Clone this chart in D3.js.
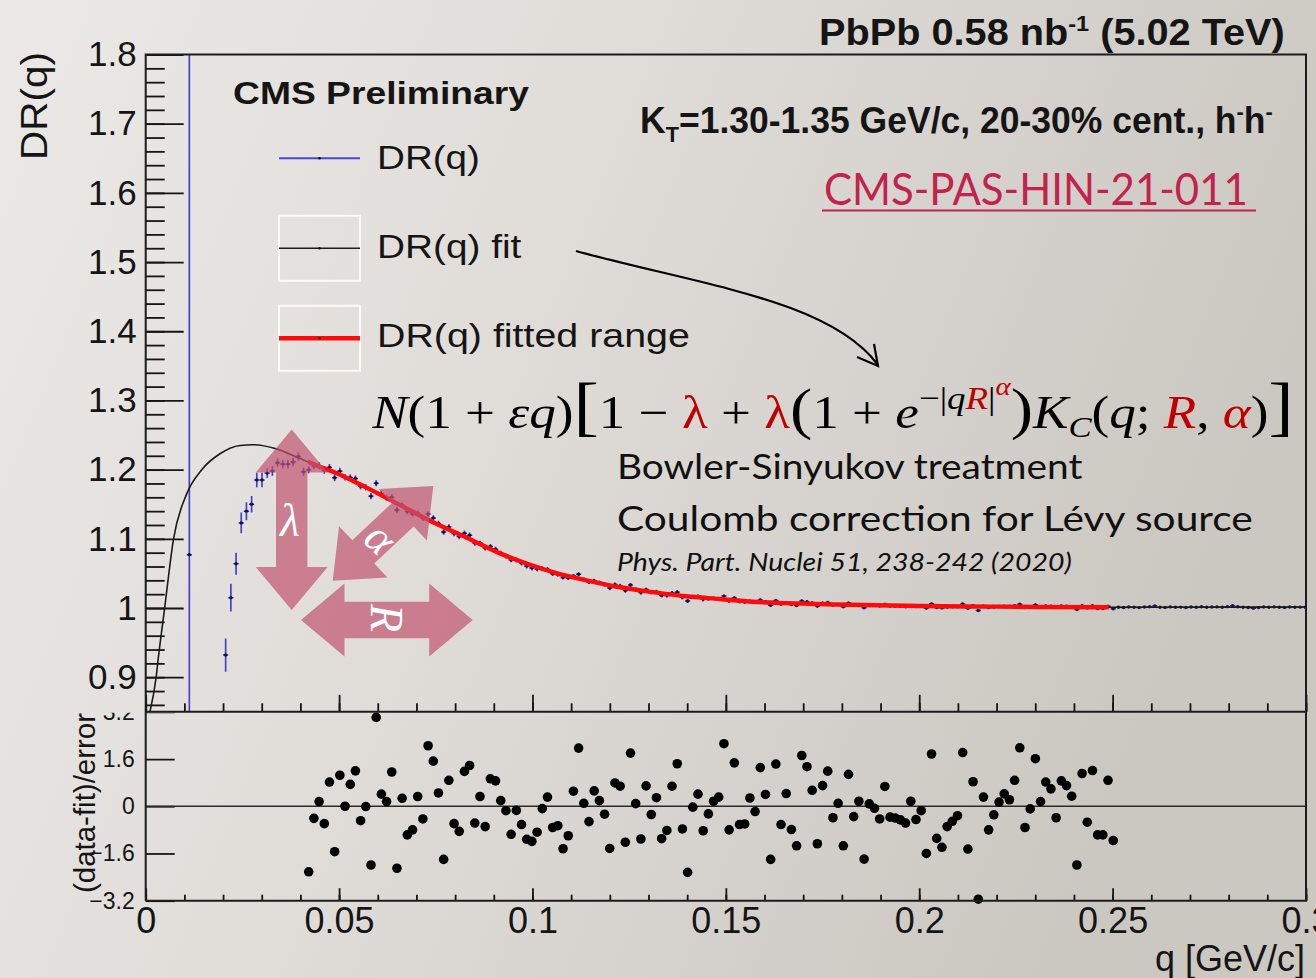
<!DOCTYPE html>
<html><head><meta charset="utf-8">
<script src="https://cdn.jsdelivr.net/npm/d3@7"></script>
<style>
html,body{margin:0;padding:0;overflow:hidden;background:#e4e2df}
svg{display:block}
</style></head><body>
<svg id="c" width="1316" height="978"></svg>
<script>
// ---------------- data ----------------
// DR(q) histogram: bin centres start at binQ0 and advance by binW
const binQ0 = 0.01128;
const binW = 0.001342;
const drValues = [1.077, null, null, null, null, null, null,
 0.932, 1.015, 1.064, 1.123, 1.140, 1.150, 1.185, 1.185, 1.195, 1.198,
 1.210, 1.208, 1.208, 1.211, 1.219, 1.197, 1.1997, 1.2055, 1.2055, 1.1989,
 1.2032, 1.1883, 1.1978, 1.1889, 1.1886, 1.1871, 1.1759, 1.1745, 1.1617, 1.1803,
 1.1647, 1.1596, 1.1602, 1.1416, 1.1484, 1.1395, 1.1362, 1.1368, 1.1299, 1.1359,
 1.1300, 1.1222, 1.1098, 1.1171, 1.1077, 1.1033, 1.1079, 1.1053, 1.0939, 1.0939,
 1.0867, 1.0889, 1.0850, 1.0793, 1.0752, 1.0695, 1.0694, 1.0649, 1.0607, 1.0579,
 1.0565, 1.0568, 1.0557, 1.0497, 1.0483, 1.0441, 1.0435, 1.0462, 1.0488, 1.0413,
 1.0377, 1.0393, 1.0368, 1.0338, 1.0288, 1.0339, 1.0319, 1.0252, 1.0332, 1.0270,
 1.0223, 1.0266, 1.0226, 1.0233, 1.0182, 1.0180, 1.0216, 1.0229, 1.0154, 1.0102,
 1.0161, 1.0168, 1.0125, 1.0135, 1.0141, 1.0138, 1.0172, 1.0100, 1.0144, 1.0092,
 1.0087, 1.0099, 1.0085, 1.0115, 1.0092, 1.0039, 1.0107, 1.0059, 1.0079, 1.0051,
 1.0037, 1.0102, 1.0091, 1.0072, 1.0030, 1.0071, 1.0080, 1.0043, 1.0052, 1.0020,
 1.0071, 1.0038, 1.0049, 1.0005, 1.0044, 1.0039, 1.0031, 1.0053, 1.0029, 1.0027,
 1.0025, 1.0020, 1.0036, 1.0021, 1.0027, 1.0000, 1.0060, 1.0008, 1.0002, 1.0014,
 1.0017, 1.0019, 1.0057, 0.9998, 1.0038, 0.9965, 1.0028, 1.0007, 1.0015, 1.0023,
 1.0027, 1.0023, 1.0034, 1.0054, 1.0005, 1.0015, 1.0046, 1.0019, 1.0031, 1.0026,
 1.0008, 1.0029, 1.0027, 1.0019, 0.9977, 1.0033, 1.0002, 1.0034, 0.9994, 0.9994,
 1.0026, 0.9989,
 1.0012, 1.0008, 1.0015, 1.0010, 1.0006, 1.0014, 1.0018, 1.0030, 1.0012, 1.0009,
 1.0016, 1.0011, 1.0013, 1.0007, 1.0015, 1.0012, 1.0018, 1.0010, 1.0014, 1.0016,
 1.0012, 1.0020, 1.0032, 1.0018, 1.0012, 1.0008, 0.9998, 1.0006, 1.0014, 1.0010,
 1.0016, 1.0012, 1.0009, 1.0015, 1.0011, 1.0013, 1.0010];
const drErrors = [0.9, null, null, null, null, null, null,
 0.024, 0.020, 0.016, 0.015, 0.013, 0.012, 0.0105, 0.0105, 0.007, 0.007,
 0.006, 0.006, 0.006, 0.006, 0.006, 0.006, 0.005, 0.005, 0.005, 0.005,
 0.005, 0.005, 0.005, 0.0045, 0.0045, 0.0045, 0.0045, 0.0045, 0.0045, 0.0045,
 0.0045, 0.0045, 0.0045, 0.0045, 0.004, 0.004, 0.004, 0.004, 0.004, 0.004,
 0.004, 0.004, 0.004, 0.004, 0.004, 0.004, 0.004, 0.004, 0.004, 0.0035,
 0.0035, 0.0035, 0.0035, 0.0035, 0.0035, 0.0035, 0.0035, 0.0035, 0.0035, 0.0035,
 0.0035, 0.0035, 0.0035, 0.0035, 0.003, 0.003, 0.003, 0.003, 0.003, 0.003,
 0.003, 0.003, 0.003, 0.003, 0.003, 0.003, 0.003, 0.003, 0.003, 0.003,
 0.003, 0.003, 0.003, 0.003, 0.003, 0.003, 0.003, 0.003, 0.003, 0.003,
 0.003, 0.003, 0.003, 0.003, 0.0022, 0.0022, 0.0022, 0.0022, 0.0022, 0.0022,
 0.0022, 0.0022, 0.0022, 0.0022, 0.0022, 0.0022, 0.0022, 0.0022, 0.0022, 0.0022,
 0.0022, 0.0022, 0.0022, 0.0022, 0.0022, 0.0022, 0.0022, 0.0022, 0.0022, 0.0022,
 0.0022, 0.0022, 0.0022, 0.0022, 0.0022, 0.0022, 0.0022, 0.0022, 0.0022, 0.0022,
 0.0022, 0.0022, 0.0022, 0.0022, 0.0018, 0.0018, 0.0018, 0.0018, 0.0018, 0.0018,
 0.0018, 0.0018, 0.0018, 0.0018, 0.0018, 0.0018, 0.0018, 0.0018, 0.0018, 0.0018,
 0.0018, 0.0018, 0.0018, 0.0018, 0.0018, 0.0018, 0.0018, 0.0018, 0.0018, 0.0018,
 0.0018, 0.0018, 0.0018, 0.0018, 0.0018, 0.0018, 0.0018, 0.0018, 0.0018, 0.0018,
 0.0018, 0.0018,
 0.0015, 0.0015, 0.0015, 0.0015, 0.0015, 0.0015, 0.0015, 0.0015, 0.0015, 0.0015,
 0.0015, 0.0015, 0.0015, 0.0015, 0.0015, 0.0015, 0.0015, 0.0015, 0.0015, 0.0015,
 0.0015, 0.0015, 0.0015, 0.0015, 0.0015, 0.0015, 0.0015, 0.0015, 0.0015, 0.0015,
 0.0015, 0.0015, 0.0015, 0.0015, 0.0015, 0.0015, 0.0015];

// (data-fit)/error, one value per bin of the fitted range
const residFirstBin = 23;
const residuals = [
 -2.22, -0.41, 0.16, -0.59, 0.82, -1.54, 1.05, 0.00, 0.74, 1.20,
 -0.49, -0.01, -1.99, 3.01, 0.41, 0.16, 1.16, -2.10, 0.27, -0.97,
 -0.80, 0.33, -0.43, 2.05, 1.53, 0.45, -1.80, 0.88, -0.59, -0.85,
 1.18, 1.38, -0.57, 0.33, -0.69, 0.93, 0.86, 0.19, -0.15, -0.95,
 -0.14, -0.62, -1.12, -1.19, -0.88, -0.08, 0.31, -0.72, -0.66, -1.44,
 -1.00, 0.51, 1.97, 0.10, -0.52, 0.52, 0.19, -0.27, -1.43, 0.79,
 0.68, -1.22, 1.80, 0.09, -1.11, 0.69, -0.28, 0.29, -1.10, -0.82,
 0.68, 1.44, -0.77, -2.24, -0.03, 0.41, -0.83, -0.26,
 0.17, 0.31, 2.12, -0.80, 1.47, -0.62, -0.60, 0.28, -0.18, 1.31,
 0.40, -1.80, 1.43, -0.62, 0.43, -0.79, -1.34, 1.72, 1.34, 0.54,
 -1.27, 0.70, 1.19, -0.39, 0.10, -1.34, 1.08, -0.35, 0.17, -1.79,
 0.08, -0.07, -0.43, 0.67, -0.37, -0.40, -0.46, -0.57, 0.17, -0.45,
 -0.15, -1.60, 1.77, -1.09, -1.39, -0.69, -0.51, -0.32, 1.82, -1.45,
 0.83, -3.15, 0.31, -0.80, -0.29, 0.14, 0.42, 0.22, 0.88, 1.98,
 -0.72, -0.09, 1.61, 0.16, 0.82, 0.59, -0.39, 0.86, 0.70, 0.34,
 -1.99, 1.11, -0.54, 1.21, -0.97, -0.97, 0.88, -1.16];

// fitted function sampled along q
const fitQ = [0.0011, 0.0027, 0.0032, 0.0049, 0.0072, 0.0106, 0.0145, 0.0192, 0.0244, 0.0278,
 0.0338, 0.0399, 0.0442, 0.0485, 0.0571, 0.0657, 0.0743, 0.0829, 0.0916, 0.0967,
 0.1053, 0.1140, 0.1226, 0.1312, 0.1398, 0.1484, 0.1570, 0.1656, 0.1786, 0.2000,
 0.2200, 0.2500, 0.2750, 0.3000];
const fitDR = [0.85, 0.90, 0.925, 1.00, 1.10, 1.165, 1.200, 1.223, 1.235, 1.236,
 1.230, 1.216, 1.206, 1.197, 1.174, 1.149, 1.124, 1.102, 1.079, 1.068,
 1.052, 1.040, 1.030, 1.023, 1.017, 1.013, 1.009, 1.007, 1.005, 1.003,
 1.002, 1.001, 1.0012, 1.0015];
const fitRange = [0.042, 0.249];

const xTicks = [0, 0.05, 0.1, 0.15, 0.2, 0.25, 0.3];
const yTicksTop = [0.9, 1.0, 1.1, 1.2, 1.3, 1.4, 1.5, 1.6, 1.7, 1.8];
const yTicksBottom = [-3.2, -1.6, 0, 1.6, 3.2];

// ---------------- layout ----------------
const L = 145.7, R = 1306, T = 54.5, MID = 711.8, B = 900.7;
const SANS = "'Liberation Sans', Arial, Helvetica, sans-serif";
const SERIF = "'Liberation Serif', 'Times New Roman', serif";
const SLIDE = "Lato, 'Open Sans', sans-serif";
const INK = "#151515";

const svg = d3.select("#c");
const defs = svg.append("defs");
const grad = defs.append("linearGradient").attr("id", "bg")
  .attr("x1", "0").attr("y1", "0").attr("x2", "1").attr("y2", "0.3");
grad.append("stop").attr("offset", "0").attr("stop-color", "#ebe9e6");
grad.append("stop").attr("offset", "0.45").attr("stop-color", "#e0ddd9");
grad.append("stop").attr("offset", "1").attr("stop-color", "#cbc7c1");
svg.append("rect").attr("width", 1316).attr("height", 978).attr("fill", "url(#bg)");

defs.append("clipPath").attr("id", "topClip").append("rect")
  .attr("x", L).attr("y", T).attr("width", R - L).attr("height", MID - T);
// the lower pad hides whatever of its labels pokes above the upper pad's edge
defs.append("clipPath").attr("id", "lowPad").append("rect")
  .attr("x", 0).attr("y", MID + 1).attr("width", 1316).attr("height", 978 - MID);

const x = d3.scaleLinear().domain([0, 0.3]).range([L, R]);
const yTop = d3.scaleLinear().domain([0.85, 1.8]).range([MID, T]);
const yBot = d3.scaleLinear().domain([-3.2, 3.2]).range([B, MID]);
defs.append("clipPath").attr("id", "fitClip").append("rect")
  .attr("x", x(fitRange[0])).attr("y", T).attr("width", x(fitRange[1]) - x(fitRange[0])).attr("height", MID - T);

// stretch a text element horizontally to a target width
function fitWidth(sel, w) {
  const b = sel.node().getBBox();
  const sx = w / b.width;
  sel.attr("transform", `translate(${b.x},0) scale(${sx},1) translate(${-b.x},0)`);
}

function styleAxis(g, fs) {
  g.select(".domain").remove();
  g.selectAll(".tick line").attr("stroke", INK).attr("stroke-width", 1.8);
  g.selectAll(".tick text").attr("fill", INK).attr("font-family", SANS).attr("font-size", fs);
}

// ---------------- upper pad ----------------
const xMinor = d3.range(0, 0.3001, 0.01);
const yMinorTop = d3.range(0.86, 1.8001, 0.02);

svg.append("g").attr("transform", `translate(${L},0)`)
  .call(d3.axisLeft(yTop).tickValues(yMinorTop).tickSize(-19).tickFormat(""))
  .call(g => styleAxis(g, 0));
svg.append("g").attr("transform", `translate(${L},0)`)
  .call(d3.axisLeft(yTop).tickValues(yTicksTop).tickSize(-38).tickPadding(9).tickFormat(d3.format("~g")))
  .call(g => styleAxis(g, 35));
svg.append("g").attr("transform", `translate(0,${MID})`)
  .call(d3.axisBottom(x).tickValues(xMinor).tickSize(-8.5).tickFormat(""))
  .call(g => styleAxis(g, 0));
svg.append("g").attr("transform", `translate(0,${MID})`)
  .call(d3.axisBottom(x).tickValues(xTicks).tickSize(-17).tickFormat(""))
  .call(g => styleAxis(g, 0));

// DR(q) points with error bars
const pts = drValues.map((v, k) => ({ q: binQ0 + k * binW, v, e: drErrors[k] })).filter(d => d.v != null);
const gp = svg.append("g").attr("clip-path", "url(#topClip)");
gp.selectAll("line.ey").data(pts).join("line").attr("class", "ey")
  .attr("x1", d => x(d.q)).attr("x2", d => x(d.q))
  .attr("y1", d => yTop(d.v - d.e)).attr("y2", d => yTop(d.v + d.e))
  .attr("stroke", "#4343cf").attr("stroke-width", 1.7);
gp.selectAll("line.ex").data(pts).join("line").attr("class", "ex")
  .attr("x1", d => x(d.q - binW / 2)).attr("x2", d => x(d.q + binW / 2))
  .attr("y1", d => yTop(d.v)).attr("y2", d => yTop(d.v))
  .attr("stroke", "#2c2c9a").attr("stroke-width", 1.5);
gp.selectAll("circle").data(pts).join("circle")
  .attr("cx", d => x(d.q)).attr("cy", d => yTop(d.v)).attr("r", 1.7).attr("fill", "#12124f");

// fitted function over the whole range, and the fitted interval in red
const fitLine = d3.line().x((d, i) => x(fitQ[i])).y(d => yTop(d)).curve(d3.curveMonotoneX);
svg.append("path").attr("d", fitLine(fitDR)).attr("fill", "none")
  .attr("stroke", "#1a1a1a").attr("stroke-width", 1.6).attr("clip-path", "url(#topClip)");
svg.append("g").attr("clip-path", "url(#fitClip)")
  .append("path").attr("d", fitLine(fitDR)).attr("fill", "none")
  .attr("stroke", "#ff0a0a").attr("stroke-width", 4.4);

// ---------------- lower pad ----------------
svg.append("g").attr("clip-path", "url(#lowPad)")
  .append("g").attr("transform", `translate(${L},0)`)
  .call(d3.axisLeft(yBot).tickValues(yTicksBottom).tickSize(-29).tickPadding(11).tickFormat(d3.format("~g")))
  .call(g => styleAxis(g, 23));
svg.append("g").attr("transform", `translate(0,${B})`)
  .call(d3.axisBottom(x).tickValues(xMinor).tickSize(-6).tickFormat(""))
  .call(g => styleAxis(g, 0));
svg.append("g").attr("transform", `translate(0,${B})`)
  .call(d3.axisBottom(x).tickValues(xTicks).tickSize(-12.5).tickPadding(7).tickFormat(d3.format("~g")))
  .call(g => styleAxis(g, 36));

svg.append("line").attr("x1", L).attr("x2", R).attr("y1", yBot(0)).attr("y2", yBot(0))
  .attr("stroke", "#2a2a2a").attr("stroke-width", 1.6);

const res = residuals.map((r, i) => ({ q: binQ0 + (residFirstBin + i) * binW, r }));
svg.append("g").selectAll("circle").data(res).join("circle")
  .attr("cx", d => x(d.q)).attr("cy", d => yBot(d.r)).attr("r", 4.8).attr("fill", "#000");

// frames
svg.append("path")
  .attr("d", `M${L},${B}V${T}H${R}V${B}H${L}M${L},${MID}H${R}`)
  .attr("fill", "none").attr("stroke", "#1c1c1c").attr("stroke-width", 2);

// axis titles
svg.append("text").attr("transform", "translate(47,52) rotate(-90)")
  .attr("text-anchor", "end").attr("font-family", SANS).attr("font-size", 37).attr("fill", INK)
  .attr("textLength", 108).attr("lengthAdjust", "spacingAndGlyphs").text("DR(q)");
svg.append("text").attr("transform", "translate(95,713) rotate(-90)")
  .attr("text-anchor", "end").attr("font-family", SANS).attr("font-size", 29).attr("fill", INK)
  .attr("textLength", 180).attr("lengthAdjust", "spacingAndGlyphs").text("(data-fit)/error");
svg.append("text").attr("x", 1305).attr("y", 971).attr("text-anchor", "end")
  .attr("font-family", SANS).attr("font-size", 36).attr("fill", INK).text("q [GeV/c]");

// ---------------- header texts ----------------
const hdr = svg.append("text").attr("x", 819).attr("y", 45)
  .attr("font-family", SANS).attr("font-weight", "bold").attr("font-size", 37).attr("fill", INK);
hdr.append("tspan").text("PbPb 0.58 nb");
hdr.append("tspan").attr("dy", -14).attr("font-size", 22).text("-1");
hdr.append("tspan").attr("dy", 14).text(" (5.02 TeV)");
fitWidth(hdr, 466);

const kt = svg.append("text").attr("x", 640).attr("y", 133)
  .attr("font-family", SANS).attr("font-weight", "bold").attr("font-size", 36).attr("fill", INK);
kt.append("tspan").text("K");
kt.append("tspan").attr("dy", 9).attr("font-size", 22).text("T");
kt.append("tspan").attr("dy", -9).text("=1.30-1.35 GeV/c, 20-30% cent., h");
kt.append("tspan").attr("dy", -14).attr("font-size", 22).text("-");
kt.append("tspan").attr("dy", 14).text("h");
kt.append("tspan").attr("dy", -14).attr("font-size", 22).text("-");
fitWidth(kt, 633);

const cms = svg.append("text").attr("x", 233).attr("y", 104)
  .attr("font-family", SANS).attr("font-weight", "bold").attr("font-size", 31).attr("fill", INK)
  .text("CMS Preliminary");
fitWidth(cms, 297);

const pas = svg.append("text").attr("x", 824).attr("y", 205)
  .attr("font-family", SLIDE).attr("font-size", 44).attr("fill", "#c2224c")
  .text("CMS-PAS-HIN-21-011");
fitWidth(pas, 424);
svg.append("line").attr("x1", 822).attr("x2", 1256).attr("y1", 210.5).attr("y2", 210.5)
  .attr("stroke", "#c2224c").attr("stroke-width", 2);

// ---------------- legend ----------------
const legend = [
  { y: 158.3, color: "#4848d2", w: 2, box: false, label: "DR(q)", tw: 103, base: 169 },
  { y: 248.3, color: "#1a1a1a", w: 1.6, box: true, label: "DR(q) fit", tw: 145, base: 258 },
  { y: 338.3, color: "#ff0a0a", w: 4.4, box: true, label: "DR(q) fitted range", tw: 313, base: 347 }
];
legend.forEach(e => {
  if (e.box) {
    svg.append("rect").attr("x", 279).attr("y", e.y - 32.5).attr("width", 81).attr("height", 65)
      .attr("fill", "none").attr("stroke", "#fbfbfb").attr("stroke-width", 2);
  }
  svg.append("line").attr("x1", 279).attr("x2", 360).attr("y1", e.y).attr("y2", e.y)
    .attr("stroke", e.color).attr("stroke-width", e.w);
  svg.append("circle").attr("cx", 319.5).attr("cy", e.y).attr("r", 1.3).attr("fill", "#111");
  const t = svg.append("text").attr("x", 377).attr("y", e.base)
    .attr("font-family", SANS).attr("font-size", 34).attr("fill", INK).text(e.label);
  fitWidth(t, e.tw);
});

// ---------------- formula ----------------
const RED = "#c00000";
const fml = svg.append("text").attr("x", 372).attr("y", 428)
  .attr("font-family", SERIF).attr("font-size", 46).attr("fill", "#000");
const levels = { base: 0, sup: -19, sup2: -33, sub: 9 };
const sizes = { base: 46, sup: 32, sup2: 25, sub: 30 };
let cur = 0;
const pieces = [
  ["N", "base", 1], ["(1 + ", "base"], ["εq", "base", 1], [")", "base"],
  ["[", "base", 0, 0, 66], ["1 − ", "base"], ["λ", "base", 0, 1], [" + ", "base"], ["λ", "base", 0, 1],
  ["(", "base", 0, 0, 58], ["1 + ", "base"], ["e", "base", 1],
  ["−|", "sup"], ["q", "sup", 1], ["R", "sup", 1, 1], ["|", "sup"], ["α", "sup2", 1, 1],
  [")", "base", 0, 0, 58], ["K", "base", 1], ["C", "sub", 1], ["(", "base"], ["q", "base", 1],
  ["; ", "base"], ["R", "base", 1, 1], [", ", "base"], ["α", "base", 1, 1], [")", "base"],
  ["]", "base", 0, 0, 66]
];
pieces.forEach(([s, lev, it, red, big]) => {
  const off = levels[lev];
  const ts = fml.append("tspan").attr("dy", off - cur).text(s)
    .attr("font-size", big || sizes[lev]);
  cur = off;
  if (it) ts.attr("font-style", "italic");
  if (red) ts.attr("fill", RED);
});
fitWidth(fml, 923);

// ---------------- slide notes ----------------
const n1 = svg.append("text").attr("x", 617).attr("y", 479).attr("font-family", SLIDE)
  .attr("font-size", 35).attr("fill", "#111").text("Bowler-Sinyukov treatment");
fitWidth(n1, 466);
const n2 = svg.append("text").attr("x", 617).attr("y", 531).attr("font-family", SLIDE)
  .attr("font-size", 35).attr("fill", "#111").text("Coulomb correction for Lévy source");
fitWidth(n2, 636);
const n3 = svg.append("text").attr("x", 617).attr("y", 571).attr("font-family", SLIDE)
  .attr("font-style", "italic").attr("font-size", 26).attr("fill", "#111")
  .text("Phys. Part. Nuclei 51, 238-242 (2020)");
fitWidth(n3, 455);

// curved pointer from the legend to the formula
svg.append("path").attr("d", "M576,251 C700,285 830,300 878,365")
  .attr("fill", "none").attr("stroke", "#000").attr("stroke-width", 2.2);
svg.append("path").attr("d", "M857,357 L878,366 L874,344")
  .attr("fill", "none").attr("stroke", "#000").attr("stroke-width", 2.2);

// ---------------- parameter arrows ----------------
function doubleArrow(x1, y1, x2, y2, shaftHalf, headHalf, headLen) {
  const dx = x2 - x1, dy = y2 - y1, len = Math.hypot(dx, dy);
  const ux = dx / len, uy = dy / len, nx = -uy, ny = ux;
  const P = (a, b) => [x1 + ux * a + nx * b, y1 + uy * a + ny * b];
  return [P(0, 0), P(headLen, headHalf), P(headLen, shaftHalf), P(len - headLen, shaftHalf),
    P(len - headLen, headHalf), P(len, 0), P(len - headLen, -headHalf), P(len - headLen, -shaftHalf),
    P(headLen, -shaftHalf), P(headLen, -headHalf)];
}
const arrows = [
  { p: doubleArrow(291.7, 429.5, 291.7, 610, 15.7, 36, 43), label: "λ", lx: 290, ly: 520, rot: 0 },
  { p: doubleArrow(301, 620, 472.7, 620, 18.3, 36.5, 43.5), label: "R", lx: 386, ly: 618, rot: 90 },
  { p: doubleArrow(332.7, 580.7, 433.3, 486, 16, 35.3, 42), label: "α", lx: 381, ly: 538, rot: 43 }
];
arrows.forEach(a => {
  svg.append("polygon").attr("points", a.p.map(d => d.join(",")).join(" "))
    .attr("fill", "#c25470").attr("fill-opacity", 0.7);
  svg.append("text").attr("transform", `translate(${a.lx},${a.ly}) rotate(${a.rot})`)
    .attr("text-anchor", "middle").attr("dominant-baseline", "central")
    .attr("font-family", SERIF).attr("font-style", "italic").attr("font-size", 46)
    .attr("fill", "#fff").text(a.label);
});
</script>
</body></html>
